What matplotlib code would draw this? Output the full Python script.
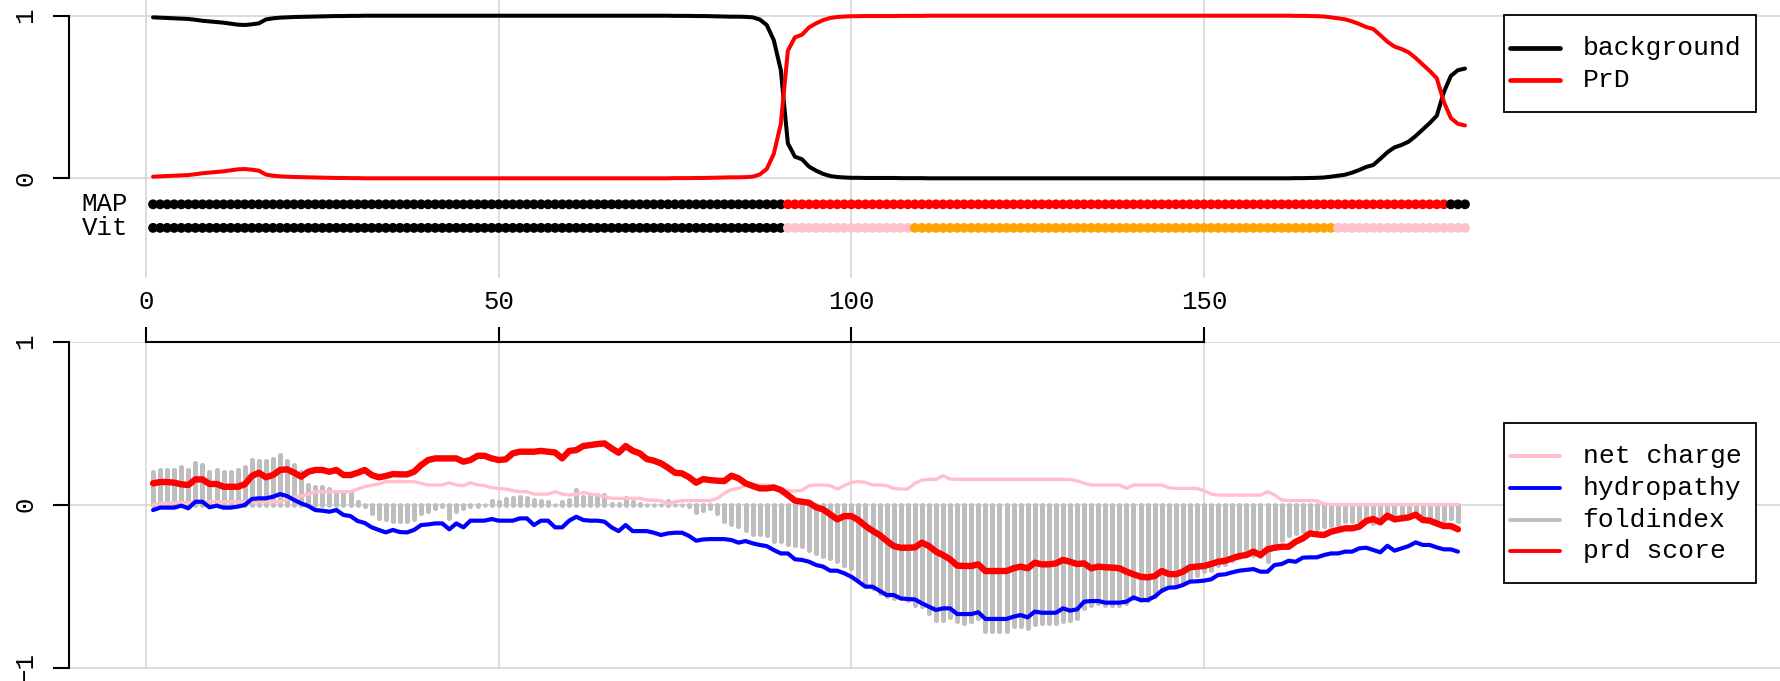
import matplotlib
matplotlib.use('Agg')
import matplotlib.pyplot as plt
from matplotlib.lines import Line2D
from matplotlib.patches import Rectangle

W, H, DPI = 1781, 681, 100
FONT = ['Liberation Mono', 'DejaVu Sans Mono']
FS = 18.5

# ---------------- top panel data (positions 1..187) ----------------
top_pos = list(range(1, 188))
background = [
    0.990, 0.988, 0.986, 0.984, 0.982, 0.980, 0.975, 0.969, 0.965, 0.961,
    0.957, 0.951, 0.945, 0.943, 0.947, 0.953, 0.977, 0.984, 0.988, 0.990,
    0.992, 0.993, 0.994, 0.995, 0.996, 0.997, 0.998, 0.998, 0.999, 0.999,
    1.000, 1.000, 1.000, 1.000, 1.000, 1.000, 1.000, 1.000, 1.000, 1.000,
    1.000, 1.000, 1.000, 1.000, 1.000, 1.000, 1.000, 1.000, 1.000, 1.000,
    1.000, 1.000, 1.000, 1.000, 1.000, 1.000, 1.000, 1.000, 1.000, 1.000,
    1.000, 1.000, 1.000, 1.000, 1.000, 1.000, 1.000, 1.000, 1.000, 1.000,
    1.000, 1.000, 1.000, 1.000, 0.999, 0.999, 0.999, 0.998, 0.998, 0.997,
    0.996, 0.995, 0.994, 0.994, 0.993, 0.990, 0.977, 0.943, 0.850, 0.666,
    0.215, 0.133, 0.117, 0.072, 0.047, 0.027, 0.014, 0.008, 0.005, 0.003,
    0.003, 0.002, 0.002, 0.002, 0.002, 0.002, 0.001, 0.001, 0.001, 0.001,
    0.000, 0.000, 0.000, 0.000, 0.000, 0.000, 0.000, 0.000, 0.000, 0.000,
    0.000, 0.000, 0.000, 0.000, 0.000, 0.000, 0.000, 0.000, 0.000, 0.000,
    0.000, 0.000, 0.000, 0.000, 0.000, 0.000, 0.000, 0.000, 0.000, 0.000,
    0.000, 0.000, 0.000, 0.000, 0.000, 0.000, 0.000, 0.000, 0.000, 0.000,
    0.000, 0.000, 0.000, 0.000, 0.000, 0.000, 0.000, 0.000, 0.000, 0.000,
    0.000, 0.000, 0.001, 0.001, 0.002, 0.003, 0.005, 0.010, 0.016, 0.022,
    0.035, 0.051, 0.070, 0.082, 0.120, 0.160, 0.190, 0.205, 0.225, 0.260,
    0.300, 0.340, 0.385, 0.530, 0.630, 0.665, 0.675,
]
prd_prob = [
    0.010, 0.012, 0.014, 0.016, 0.018, 0.020, 0.025, 0.031, 0.035, 0.039,
    0.043, 0.049, 0.055, 0.057, 0.053, 0.047, 0.023, 0.016, 0.012, 0.010,
    0.008, 0.007, 0.006, 0.005, 0.004, 0.003, 0.002, 0.002, 0.001, 0.001,
    0.000, 0.000, 0.000, 0.000, 0.000, 0.000, 0.000, 0.000, 0.000, 0.000,
    0.000, 0.000, 0.000, 0.000, 0.000, 0.000, 0.000, 0.000, 0.000, 0.000,
    0.000, 0.000, 0.000, 0.000, 0.000, 0.000, 0.000, 0.000, 0.000, 0.000,
    0.000, 0.000, 0.000, 0.000, 0.000, 0.000, 0.000, 0.000, 0.000, 0.000,
    0.000, 0.000, 0.000, 0.000, 0.001, 0.001, 0.001, 0.002, 0.002, 0.003,
    0.004, 0.005, 0.006, 0.006, 0.007, 0.010, 0.023, 0.057, 0.150, 0.334,
    0.785, 0.867, 0.883, 0.928, 0.953, 0.973, 0.986, 0.992, 0.995, 0.997,
    0.997, 0.998, 0.998, 0.998, 0.998, 0.998, 0.999, 0.999, 0.999, 0.999,
    1.000, 1.000, 1.000, 1.000, 1.000, 1.000, 1.000, 1.000, 1.000, 1.000,
    1.000, 1.000, 1.000, 1.000, 1.000, 1.000, 1.000, 1.000, 1.000, 1.000,
    1.000, 1.000, 1.000, 1.000, 1.000, 1.000, 1.000, 1.000, 1.000, 1.000,
    1.000, 1.000, 1.000, 1.000, 1.000, 1.000, 1.000, 1.000, 1.000, 1.000,
    1.000, 1.000, 1.000, 1.000, 1.000, 1.000, 1.000, 1.000, 1.000, 1.000,
    1.000, 1.000, 0.999, 0.999, 0.998, 0.997, 0.995, 0.990, 0.984, 0.978,
    0.965, 0.949, 0.930, 0.918, 0.880, 0.840, 0.810, 0.795, 0.775, 0.740,
    0.700, 0.660, 0.615, 0.470, 0.370, 0.335, 0.325,
]
# state paths as (state, run length); states: 'bg', 'prd', 'pink', 'orange'
map_runs = [('bg', 90), ('prd', 94), ('bg', 3)]
vit_runs = [('bg', 90), ('pink', 18), ('orange', 60), ('pink', 19)]
state_colors = {'bg': '#000000', 'prd': '#FF0000', 'pink': '#FFC0CB', 'orange': '#FFA500'}
path_labels = ['MAP', 'Vit']
path_y = [-0.16, -0.305]

# ---------------- bottom panel data (positions 1..186) ----------------
bot_pos = list(range(1, 187))
net_charge = [
    0.000, 0.008, 0.010, 0.012, 0.012, 0.012, 0.018, 0.018, 0.018, 0.018,
    0.018, 0.018, 0.018, 0.018, 0.018, 0.018, 0.018, 0.018, 0.018, 0.030,
    0.045, 0.053, 0.065, 0.080, 0.080, 0.080, 0.080, 0.080, 0.080, 0.096,
    0.110, 0.120, 0.127, 0.141, 0.141, 0.141, 0.141, 0.141, 0.131, 0.121,
    0.121, 0.121, 0.135, 0.121, 0.117, 0.135, 0.121, 0.117, 0.104, 0.100,
    0.096, 0.086, 0.080, 0.080, 0.065, 0.065, 0.065, 0.080, 0.065, 0.059,
    0.065, 0.075, 0.065, 0.059, 0.049, 0.039, 0.039, 0.039, 0.039, 0.039,
    0.029, 0.027, 0.025, 0.008, 0.018, 0.025, 0.025, 0.025, 0.025, 0.025,
    0.039, 0.070, 0.094, 0.100, 0.120, 0.120, 0.120, 0.120, 0.110, 0.100,
    0.086, 0.084, 0.088, 0.117, 0.121, 0.121, 0.117, 0.096, 0.117, 0.137,
    0.141, 0.137, 0.121, 0.121, 0.117, 0.100, 0.096, 0.096, 0.131, 0.151,
    0.155, 0.155, 0.178, 0.157, 0.155, 0.155, 0.155, 0.155, 0.155, 0.155,
    0.155, 0.155, 0.155, 0.155, 0.155, 0.155, 0.155, 0.155, 0.155, 0.155,
    0.155, 0.147, 0.131, 0.121, 0.121, 0.121, 0.121, 0.121, 0.100, 0.121,
    0.121, 0.121, 0.121, 0.121, 0.104, 0.100, 0.100, 0.100, 0.100, 0.086,
    0.065, 0.059, 0.059, 0.059, 0.059, 0.059, 0.059, 0.059, 0.080, 0.060,
    0.029, 0.025, 0.025, 0.025, 0.025, 0.025, 0.005, 0.000, 0.000, 0.000,
    0.000, 0.000, 0.000, 0.000, 0.000, 0.000, 0.000, 0.000, 0.000, 0.000,
    0.000, 0.000, 0.000, 0.000, 0.000, 0.000,
]
hydropathy = [
    -0.033, -0.018, -0.018, -0.018, -0.006, -0.022, 0.018, 0.018, -0.016, -0.006,
    -0.018, -0.018, -0.012, -0.002, 0.035, 0.039, 0.039, 0.049, 0.065, 0.053,
    0.029, 0.008, -0.008, -0.033, -0.037, -0.043, -0.033, -0.063, -0.070, -0.100,
    -0.112, -0.139, -0.155, -0.170, -0.155, -0.168, -0.170, -0.155, -0.125, -0.121,
    -0.115, -0.115, -0.151, -0.115, -0.139, -0.098, -0.098, -0.098, -0.088, -0.098,
    -0.098, -0.098, -0.084, -0.084, -0.125, -0.098, -0.098, -0.139, -0.139, -0.098,
    -0.074, -0.094, -0.098, -0.098, -0.104, -0.139, -0.162, -0.125, -0.162, -0.162,
    -0.162, -0.172, -0.186, -0.176, -0.172, -0.172, -0.192, -0.221, -0.213, -0.211,
    -0.211, -0.211, -0.217, -0.233, -0.223, -0.237, -0.247, -0.254, -0.278, -0.299,
    -0.299, -0.335, -0.339, -0.350, -0.370, -0.380, -0.405, -0.405, -0.421, -0.442,
    -0.472, -0.503, -0.503, -0.528, -0.554, -0.554, -0.575, -0.579, -0.581, -0.605,
    -0.626, -0.646, -0.636, -0.636, -0.671, -0.671, -0.671, -0.660, -0.701, -0.701,
    -0.701, -0.701, -0.687, -0.677, -0.691, -0.656, -0.663, -0.663, -0.663, -0.636,
    -0.650, -0.642, -0.595, -0.591, -0.591, -0.601, -0.601, -0.601, -0.595, -0.569,
    -0.585, -0.585, -0.564, -0.528, -0.509, -0.507, -0.493, -0.472, -0.470, -0.466,
    -0.458, -0.431, -0.427, -0.415, -0.405, -0.400, -0.395, -0.411, -0.411, -0.370,
    -0.364, -0.344, -0.350, -0.325, -0.323, -0.323, -0.309, -0.299, -0.299, -0.288,
    -0.288, -0.268, -0.264, -0.278, -0.292, -0.252, -0.282, -0.268, -0.254, -0.231,
    -0.247, -0.247, -0.262, -0.274, -0.274, -0.288,
]
foldindex = [
    0.200, 0.215, 0.210, 0.210, 0.230, 0.210, 0.258, 0.241, 0.200, 0.210,
    0.200, 0.200, 0.210, 0.230, 0.272, 0.266, 0.266, 0.282, 0.303, 0.266,
    0.241, 0.200, 0.119, 0.108, 0.108, 0.098, 0.078, 0.078, 0.078, 0.016,
    -0.010, -0.050, -0.080, -0.090, -0.100, -0.100, -0.100, -0.090, -0.050, -0.040,
    -0.020, -0.010, -0.080, -0.040, -0.020, -0.010, -0.005, 0.000, 0.022, 0.016,
    0.033, 0.040, 0.047, 0.040, 0.027, 0.020, 0.016, 0.000, 0.016, 0.027,
    0.088, 0.047, 0.053, 0.061, 0.061, 0.006, 0.006, 0.040, 0.016, 0.006,
    0.000, 0.000, -0.004, 0.020, 0.000, 0.000, -0.010, -0.047, -0.030, -0.020,
    -0.051, -0.102, -0.119, -0.133, -0.153, -0.180, -0.180, -0.188, -0.220, -0.225,
    -0.241, -0.249, -0.256, -0.276, -0.297, -0.317, -0.327, -0.344, -0.368, -0.389,
    -0.446, -0.491, -0.511, -0.542, -0.562, -0.573, -0.573, -0.583, -0.613, -0.624,
    -0.665, -0.706, -0.706, -0.691, -0.716, -0.726, -0.716, -0.695, -0.777, -0.777,
    -0.777, -0.777, -0.746, -0.746, -0.757, -0.732, -0.726, -0.726, -0.726, -0.712,
    -0.706, -0.695, -0.634, -0.613, -0.603, -0.613, -0.613, -0.613, -0.603, -0.573,
    -0.583, -0.583, -0.562, -0.521, -0.501, -0.501, -0.481, -0.450, -0.429, -0.409,
    -0.399, -0.368, -0.364, -0.337, -0.323, -0.307, -0.311, -0.317, -0.348, -0.235,
    -0.215, -0.184, -0.174, -0.164, -0.143, -0.143, -0.133, -0.123, -0.119, -0.102,
    -0.102, -0.098, -0.092, -0.112, -0.102, -0.082, -0.082, -0.078, -0.072, -0.061,
    -0.082, -0.082, -0.092, -0.092, -0.082, -0.102,
]
prd_score = [
    0.131, 0.139, 0.139, 0.135, 0.125, 0.121, 0.155, 0.155, 0.127, 0.127,
    0.110, 0.110, 0.110, 0.125, 0.176, 0.196, 0.168, 0.182, 0.213, 0.217,
    0.196, 0.172, 0.202, 0.213, 0.213, 0.202, 0.213, 0.182, 0.182, 0.196,
    0.213, 0.182, 0.168, 0.176, 0.188, 0.186, 0.186, 0.202, 0.243, 0.274,
    0.284, 0.284, 0.284, 0.284, 0.264, 0.274, 0.300, 0.300, 0.284, 0.274,
    0.278, 0.315, 0.325, 0.325, 0.325, 0.330, 0.325, 0.320, 0.284, 0.330,
    0.335, 0.360, 0.366, 0.372, 0.376, 0.346, 0.319, 0.360, 0.331, 0.315,
    0.280, 0.270, 0.254, 0.227, 0.196, 0.192, 0.168, 0.135, 0.157, 0.151,
    0.147, 0.145, 0.178, 0.162, 0.131, 0.115, 0.100, 0.100, 0.106, 0.090,
    0.059, 0.025, 0.018, 0.012, -0.016, -0.029, -0.059, -0.090, -0.070, -0.070,
    -0.094, -0.131, -0.160, -0.186, -0.221, -0.254, -0.264, -0.264, -0.262, -0.233,
    -0.254, -0.288, -0.309, -0.335, -0.374, -0.376, -0.376, -0.366, -0.407, -0.407,
    -0.407, -0.407, -0.390, -0.380, -0.390, -0.356, -0.366, -0.366, -0.360, -0.339,
    -0.350, -0.364, -0.360, -0.390, -0.380, -0.384, -0.386, -0.390, -0.411, -0.427,
    -0.442, -0.446, -0.438, -0.407, -0.425, -0.427, -0.411, -0.384, -0.380, -0.376,
    -0.364, -0.350, -0.344, -0.329, -0.315, -0.309, -0.288, -0.309, -0.274, -0.264,
    -0.258, -0.258, -0.227, -0.207, -0.176, -0.182, -0.186, -0.166, -0.155, -0.145,
    -0.145, -0.135, -0.100, -0.088, -0.108, -0.067, -0.090, -0.084, -0.078, -0.061,
    -0.094, -0.098, -0.115, -0.131, -0.131, -0.151,
]

x_ticks = [0, 50, 100, 150]
top_legend_labels = ['background', 'PrD']
top_legend_colors = ['#000000', '#FF0000']
bot_legend_labels = ['net charge', 'hydropathy', 'foldindex', 'prd score']
bot_legend_colors = ['#FFC0CB', '#0000FF', '#BEBEBE', '#FF0000']

GRID = '#D3D3D3'
XLIM = (-10.93, 231.8)

fig = plt.figure(figsize=(W / DPI, H / DPI), dpi=DPI)


def fx(px):
    return px / W


def fy(py):
    return 1 - py / H


def style_axes(ax, ybounds):
    for s in ['right', 'bottom', 'top']:
        ax.spines[s].set_visible(False)
    ax.spines['left'].set_bounds(*ybounds)
    ax.spines['left'].set_linewidth(1.5)
    ax.set_axisbelow(True)
    ax.grid(True, color=GRID, linewidth=1.1)
    ax.tick_params(axis='y', length=11.8, width=1.5, pad=11)
    for lab in ax.get_yticklabels():
        lab.set_rotation(90)
        lab.set_va('center')
        lab.set_family(FONT)
        lab.set_fontsize(FS)


# ---------- top panel ----------
ax1 = fig.add_axes([fx(68.9), fy(278), 1 - fx(68.9), 278 / H])
ax1.set_xlim(*XLIM)
ax1.set_ylim(-0.6132, 1.0966)
ax1.set_xticks(x_ticks)
ax1.tick_params(axis='x', length=0, labelbottom=False)
ax1.set_yticks([0, 1])
ax1.set_yticklabels(['0', '1'])
style_axes(ax1, (0, 1))

ax1.plot(top_pos, background, color='#000000', lw=2.9, solid_joinstyle='round',
         solid_capstyle='round', zorder=3)
ax1.plot(top_pos, prd_prob, color='#FF0000', lw=2.9, solid_joinstyle='round',
         solid_capstyle='round', zorder=4)

for runs, yv, lab in zip([map_runs, vit_runs], path_y, path_labels):
    cols = []
    for st, n in runs:
        cols += [state_colors[st]] * n
    ax1.scatter(top_pos, [yv] * len(top_pos), c=cols, s=50, linewidths=0, zorder=5)
    ax1.text(-2.5, yv, lab, ha='right', va='center', family=FONT, fontsize=FS)

# ---------- bottom panel ----------
ax2 = fig.add_axes([fx(68.9), fy(668.5), 1 - fx(68.9), (668.5 - 341.7) / H])
ax2.set_xlim(*XLIM)
ax2.set_ylim(-1.005, 1.0)
ax2.set_xticks(x_ticks)
ax2.set_xticklabels([str(t) for t in x_ticks])
ax2.xaxis.tick_top()
ax2.tick_params(axis='x', length=11.0, width=1.5, pad=9, labelsize=FS)
for lab in ax2.get_xticklabels():
    lab.set_family(FONT)
ax2.set_yticks([-1, 0, 1])
ax2.set_yticklabels(['\u22121', '0', '1'])
style_axes(ax2, (-1, 1))
ax2.spines['top'].set_visible(True)
ax2.spines['top'].set_bounds(0, 150)
ax2.spines['top'].set_linewidth(1.5)

vl = ax2.vlines(bot_pos, 0, foldindex, colors='#BEBEBE', linewidth=3.6, zorder=2)
vl.set_capstyle('round')
ax2.scatter(bot_pos, foldindex, s=10, color='#BEBEBE', linewidths=0, zorder=2)
ax2.plot(bot_pos, net_charge, color='#FFC0CB', lw=2.4, solid_joinstyle='round',
         solid_capstyle='round', zorder=3)
ax2.plot(bot_pos, hydropathy, color='#0000FF', lw=3.0, solid_joinstyle='round',
         solid_capstyle='round', zorder=4)
ax2.plot(bot_pos, prd_score, color='#FF0000', lw=4.6, solid_joinstyle='round',
         solid_capstyle='round', zorder=5)


# ---------- legends (drawn in figure pixel geometry) ----------
def draw_legend(box, labels, colors, rows_y, lw):
    x0, y0, x1, y1 = box
    fig.add_artist(Rectangle((fx(x0), fy(y1)), fx(x1) - fx(x0), (y1 - y0) / H,
                             transform=fig.transFigure, facecolor='white',
                             edgecolor='black', linewidth=1.3, zorder=10))
    for lab, col, yy in zip(labels, colors, rows_y):
        fig.add_artist(Line2D([fx(1510), fx(1560.5)], [fy(yy), fy(yy)],
                              transform=fig.transFigure, color=col, lw=lw,
                              solid_capstyle='round', zorder=11))
        fig.text(fx(1582.6), fy(yy), lab, ha='left', va='center', family=FONT,
                 fontsize=FS + 0.5, zorder=11)


draw_legend((1504, 15, 1755.6, 111.7), top_legend_labels, top_legend_colors,
            [47.7, 80.0], 3.4)
draw_legend((1504, 423.3, 1755.6, 583.3), bot_legend_labels, bot_legend_colors,
            [456.0, 487.7, 519.7, 551.0], 2.8)

fig.savefig('out.png', dpi=DPI)
